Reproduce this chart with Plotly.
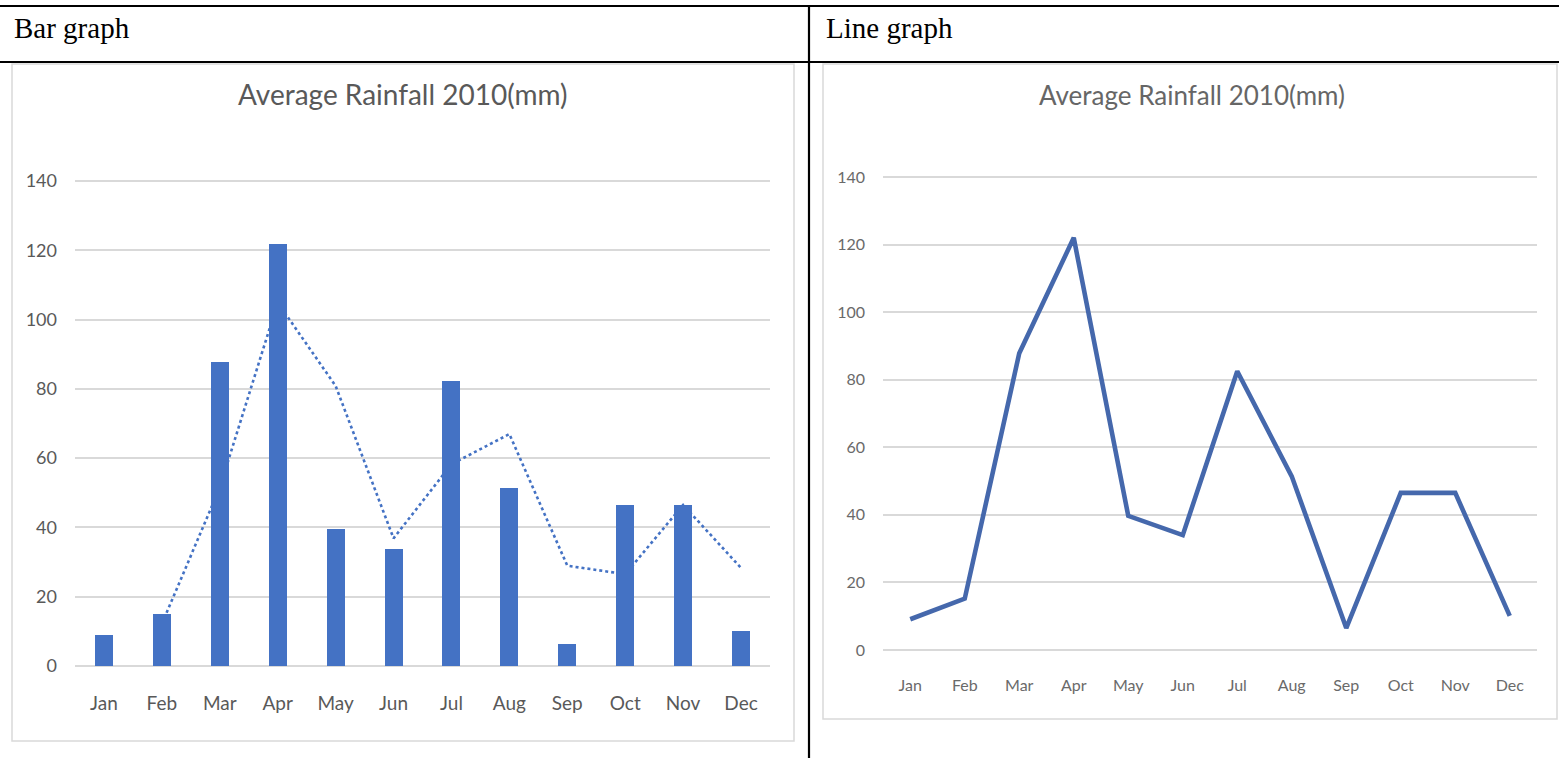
import pandas as pd
import plotly.graph_objects as go

# Monthly rainfall, 2010 (mm)
months = ["Jan", "Feb", "Mar", "Apr", "May", "Jun",
          "Jul", "Aug", "Sep", "Oct", "Nov", "Dec"]
rainfall_mm = [9.1, 15.2, 87.8, 122.0, 39.7, 34.0,
               82.5, 51.4, 6.5, 46.5, 46.5, 10.1]
y_ticks = [0, 20, 40, 60, 80, 100, 120, 140]

chart_title = "Average Rainfall 2010(mm)"
panel_titles = ["Bar graph", "Line graph"]

# two-period moving-average trendline over the bar series
trend_mm = pd.Series(rainfall_mm).rolling(2).mean().tolist()

W, H = 1559, 758
Y_MAX = 141  # a little headroom so the 140 gridline is drawn


def px(x):
    return x / W


def py(y):
    return 1 - y / H


def y_domain(zero_px, top_tick_px):
    # pixel rows of 0 and 140; stretch the top edge to Y_MAX
    per_unit = (zero_px - top_tick_px) / 140
    return [py(zero_px), py(zero_px - per_unit * Y_MAX)]


BAR_BLUE = "#4472C4"
LINE_BLUE = "#4568AC"
GRID = "#D9D9D9"
TEXT = "#595959"
TICK_FONT = "Lato, Carlito, Calibri, sans-serif"

fig = go.Figure()

# trendline sits on the base axis so the bars (overlaid axis) draw above it
fig.add_trace(go.Scatter(
    x=months, y=trend_mm, mode="lines",
    line=dict(color=BAR_BLUE, width=2.6, dash="dot"),
    xaxis="x", yaxis="y", hoverinfo="skip", showlegend=False,
))
fig.add_trace(go.Bar(
    x=months, y=rainfall_mm, width=0.31,
    marker=dict(color=BAR_BLUE, line=dict(width=0)),
    xaxis="x", yaxis="y2", showlegend=False,
))
fig.add_trace(go.Scatter(
    x=months, y=rainfall_mm, mode="lines",
    line=dict(color=LINE_BLUE, width=4.6),
    xaxis="x3", yaxis="y3", showlegend=False,
))

common_x = dict(type="category", range=[-0.5, 11.5], showgrid=False,
                showline=False, zeroline=False, ticks="", fixedrange=True,
                automargin=False)
common_y = dict(range=[0, Y_MAX], tickvals=y_ticks, showline=False, ticks="",
                gridcolor=GRID, gridwidth=1.6, zeroline=True,
                zerolinecolor=GRID, zerolinewidth=1.6, fixedrange=True,
                automargin=False)

fig.update_layout(
    width=W, height=H, autosize=False,
    margin=dict(l=0, r=0, t=0, b=0, pad=0, autoexpand=False),
    paper_bgcolor="white", plot_bgcolor="rgba(0,0,0,0)",
    bargap=0,
    xaxis=dict(domain=[px(75), px(770)], anchor="y",
               tickfont=dict(family=TICK_FONT, size=19, color=TEXT),
               ticklabelstandoff=24, **common_x),
    yaxis=dict(domain=y_domain(666, 181), anchor="x",
               tickfont=dict(family=TICK_FONT, size=18, color=TEXT),
               ticklabelstandoff=17, **common_y),
    yaxis2=dict(overlaying="y", range=[0, Y_MAX], visible=False,
                showgrid=False, fixedrange=True, automargin=False),
    xaxis3=dict(domain=[px(883), px(1537)], anchor="y3",
                tickfont=dict(family=TICK_FONT, size=16, color="#6A6A6A"),
                ticklabelstandoff=24, **common_x),
    yaxis3=dict(domain=y_domain(650, 177), anchor="x3",
                tickfont=dict(family=TICK_FONT, size=16, color="#6A6A6A"),
                ticklabelstandoff=17, **common_y),
)

shapes = []
# chart frames
shapes.append(dict(type="rect", xref="paper", yref="paper",
                   x0=px(12), x1=px(794), y0=py(741), y1=py(64),
                   line=dict(color=GRID, width=1.5), layer="below"))
shapes.append(dict(type="rect", xref="paper", yref="paper",
                   x0=px(823), x1=px(1557), y0=py(719), y1=py(64),
                   line=dict(color=GRID, width=1.5), layer="below"))
# table rules
for y in (6, 62):
    shapes.append(dict(type="line", xref="paper", yref="paper",
                       x0=0, x1=1, y0=py(y), y1=py(y),
                       line=dict(color="black", width=2.2)))
shapes.append(dict(type="line", xref="paper", yref="paper",
                   x0=px(809), x1=px(809), y0=py(6), y1=0,
                   line=dict(color="black", width=2.2)))
fig.update_layout(shapes=shapes)

annotations = [
    dict(text=panel_titles[0], x=px(12), y=py(28), xanchor="left",
         yanchor="middle", showarrow=False, xref="paper", yref="paper",
         font=dict(family="Liberation Serif, Times New Roman, serif",
                   size=29, color="black")),
    dict(text=panel_titles[1], x=px(824), y=py(28), xanchor="left",
         yanchor="middle", showarrow=False, xref="paper", yref="paper",
         font=dict(family="Liberation Serif, Times New Roman, serif",
                   size=29, color="black")),
    dict(text=chart_title, x=px(403), y=py(94), xanchor="center",
         yanchor="middle", showarrow=False, xref="paper", yref="paper",
         font=dict(family=TICK_FONT, size=28, color=TEXT)),
    dict(text=chart_title, x=px(1192), y=py(95), xanchor="center",
         yanchor="middle", showarrow=False, xref="paper", yref="paper",
         font=dict(family=TICK_FONT, size=26, color="#666666")),
]
fig.update_layout(annotations=annotations)

fig.write_html("out.html", config=dict(displayModeBar=False))
